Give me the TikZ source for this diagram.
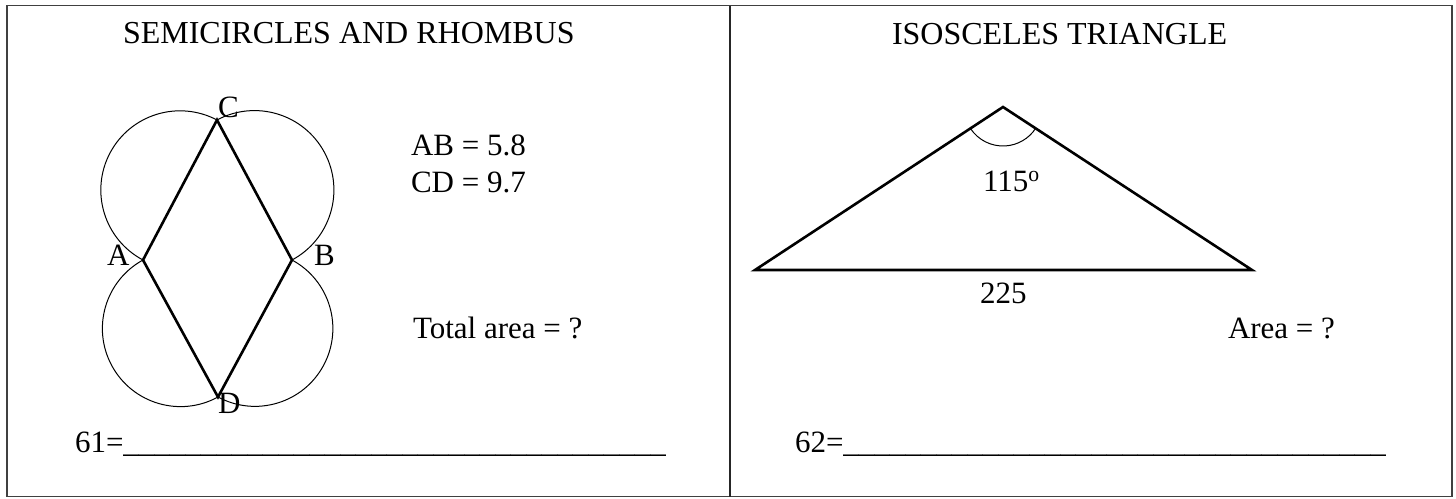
\documentclass[tikz,border=0pt]{standalone}
\usepackage{fontspec}
\setmainfont{Liberation Serif}
\begin{document}
\begin{tikzpicture}[x=1pt,y=1pt,
  txt/.style={font=\fontsize{31}{37}\selectfont, inner sep=0pt, outer sep=0pt, anchor=base west},
  ttl/.style={txt, font=\fontsize{32}{38}\selectfont},
  frameline/.style={draw=black!75, line width=1.6pt},
  divline/.style={draw=black!85, line width=1.1pt},
  heavy/.style={line width=2.6pt, line join=miter},
  thin/.style={line width=1pt}]
\useasboundingbox (0,0) rectangle (1456,-498);
% frame
\coordinate (TL) at (7,-5.5);
\coordinate (BR) at (1452,-496.5);
\coordinate (DT) at (730,-5.5);
\coordinate (DB) at (730,-496.5);
\draw[frameline] (TL) rectangle (BR);
\draw[divline] (DT) -- (DB);
% titles
\node[ttl] (t1) at (123,-43) {SEMICIRCLES AND RHOMBUS};
\node[ttl] (t2) at (892,-44) {ISOSCELES TRIANGLE};
% rhombus
\coordinate (A) at (143,-260);
\coordinate (C) at (217,-120);
\coordinate (B) at (292,-260);
\coordinate (D) at (218,-397);
\draw[thin] (A) arc[start angle=242.14, end angle=62.14, radius=79.18];
\draw[thin] (C) arc[start angle=118.18, end angle=-61.82, radius=79.41];
\draw[thin] (B) arc[start angle=61.63, end angle=-118.37, radius=77.85];
\draw[thin] (D) arc[start angle=298.70, end angle=118.70, radius=78.1];
\draw[heavy] (A) -- (C) -- (B) -- (D) -- cycle;
\node[txt] (lc) at (218,-117) {C};
\node[txt] (la) at (107,-265) {A};
\node[txt] (lb) at (314,-265) {B};
\node[txt] (ld) at (218,-413) {D};
\node[txt] (ab) at (411,-155) {AB = 5.8};
\node[txt] (cd) at (411,-192) {CD = 9.7};
\node[txt] (tot) at (413,-338) {Total area = ?};
\node[txt] (a61) at (75,-452) {61=\_\_\_\_\_\_\_\_\_\_\_\_\_\_\_\_\_\_\_\_\_\_\_\_\_\_\_\_\_\_\_\_\_\_\_};
% triangle
\coordinate (P) at (1003,-107);
\coordinate (L) at (755,-270);
\coordinate (R) at (1252,-270);
\draw[heavy] (L) -- (P) -- (R) -- cycle;
\draw[thin] (P) ++(213.3:39) arc[start angle=213.3, end angle=326.8, radius=39];
\node[txt] (ang) at (983,-191) {115\textsuperscript{o}};
\node[txt] (base) at (980,-303) {225};
\node[txt] (area) at (1228,-338) {Area = ?};
\node[txt] (a62) at (795,-452) {62=\_\_\_\_\_\_\_\_\_\_\_\_\_\_\_\_\_\_\_\_\_\_\_\_\_\_\_\_\_\_\_\_\_\_\_};
\end{tikzpicture}
\end{document}
